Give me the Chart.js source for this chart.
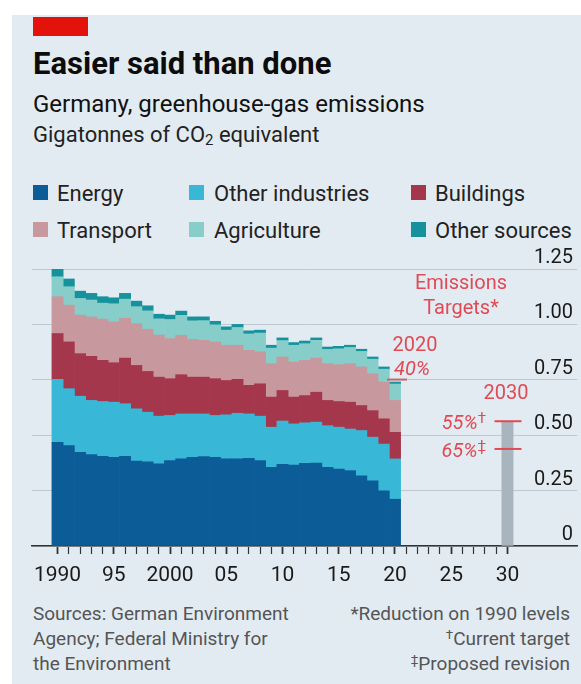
<!DOCTYPE html>
<html>
<head>
<meta charset="utf-8">
<script src="https://cdn.jsdelivr.net/npm/chart.js@4.4.1/dist/chart.umd.min.js"></script>
<style>
  body { margin: 0; background: #fff; font-family: Roboto, "Open Sans", sans-serif; }
  #panel { position: absolute; left: 12px; top: 15px; width: 569px; height: 669px; background: #e2ebf2; }
  .abs { position: absolute; white-space: nowrap; line-height: 1; }
  #redbar { position: absolute; left: 33px; top: 17px; width: 55px; height: 19px; background: #e3120b; }
  #title { left: 33px; top: 48px; font-size: 31px; font-weight: 700; color: #0c0c0c; }
  #subtitle { left: 33px; top: 92px; font-size: 24px; color: #111; }
  #units { left: 33px; top: 124px; font-size: 22px; color: #222; }
  #units sub { font-size: 0.68em; vertical-align: -0.2em; line-height: 0; }
  .sw { position: absolute; width: 15px; height: 15px; }
  .lg { font-size: 22px; color: #222; }
  .foot { position: absolute; top: 601px; font-size: 19px; line-height: 25px; color: #555; white-space: nowrap; }
  .foot sup { font-size: 0.7em; vertical-align: 0.45em; line-height: 0; }
  #chart { position: absolute; left: 12px; top: 245px; }
</style>
</head>
<body>
<div id="panel"></div>
<div id="redbar"></div>
<div class="abs" id="title">Easier said than done</div>
<div class="abs" id="subtitle">Germany, greenhouse-gas emissions</div>
<div class="abs" id="units">Gigatonnes of CO<sub>2</sub> equivalent</div>
<div id="legend"></div>
<canvas id="chart" width="569" height="350"></canvas>
<div class="foot" style="left:33px;">Sources: German Environment<br>Agency; Federal Ministry for<br>the Environment</div>
<div class="foot" style="right:11px; text-align:right;">*Reduction on 1990 levels<br><sup>†</sup>Current target<br><sup>‡</sup>Proposed revision</div>

<script>
// Germany, greenhouse-gas emissions by sector, Gt CO2e
const years = [1990, 1991, 1992, 1993, 1994, 1995, 1996, 1997, 1998, 1999,
               2000, 2001, 2002, 2003, 2004, 2005, 2006, 2007, 2008, 2009,
               2010, 2011, 2012, 2013, 2014, 2015, 2016, 2017, 2018, 2019, 2020];
const energy = [0.468, 0.453, 0.423, 0.412, 0.405, 0.400, 0.405, 0.383, 0.380, 0.371,
                0.385, 0.393, 0.400, 0.403, 0.400, 0.393, 0.393, 0.396, 0.385, 0.355,
                0.368, 0.365, 0.373, 0.374, 0.355, 0.347, 0.340, 0.317, 0.294, 0.249, 0.211];
const otherIndustries = [0.284, 0.257, 0.253, 0.245, 0.247, 0.249, 0.237, 0.236, 0.224, 0.215,
                         0.204, 0.203, 0.196, 0.193, 0.189, 0.199, 0.206, 0.200, 0.201, 0.181,
                         0.196, 0.186, 0.183, 0.185, 0.188, 0.189, 0.188, 0.204, 0.197, 0.211, 0.182];
const buildings = [0.207, 0.211, 0.192, 0.199, 0.186, 0.178, 0.206, 0.196, 0.184, 0.176,
                   0.166, 0.177, 0.166, 0.166, 0.166, 0.155, 0.153, 0.129, 0.146, 0.136,
                   0.138, 0.121, 0.123, 0.135, 0.114, 0.116, 0.121, 0.113, 0.120, 0.114, 0.120];
const transport = [0.166, 0.166, 0.174, 0.178, 0.186, 0.185, 0.180, 0.189, 0.190, 0.190,
                   0.181, 0.178, 0.171, 0.166, 0.166, 0.159, 0.154, 0.158, 0.144, 0.151,
                   0.151, 0.158, 0.159, 0.154, 0.166, 0.166, 0.174, 0.174, 0.166, 0.166, 0.144];
const agriculture = [0.090, 0.083, 0.075, 0.076, 0.072, 0.081, 0.086, 0.076, 0.083, 0.073,
                     0.086, 0.090, 0.083, 0.089, 0.077, 0.068, 0.080, 0.074, 0.085, 0.070,
                     0.074, 0.076, 0.075, 0.080, 0.064, 0.072, 0.073, 0.070, 0.066, 0.058, 0.074];
const otherSources = [0.038, 0.035, 0.033, 0.030, 0.029, 0.027, 0.026, 0.025, 0.023, 0.021,
                      0.020, 0.019, 0.018, 0.017, 0.016, 0.015, 0.014, 0.014, 0.013, 0.013,
                      0.012, 0.012, 0.012, 0.011, 0.011, 0.011, 0.010, 0.010, 0.010, 0.010, 0.009];

const seriesNames = ['Energy', 'Other industries', 'Buildings', 'Transport', 'Agriculture', 'Other sources'];
const seriesValues = [energy, otherIndustries, buildings, transport, agriculture, otherSources];
const seriesColours = ['#0c5c98', '#38b7d6', '#a5374c', '#c8989f', '#87cecb', '#16929c'];

// targets (reduction on 1990 levels)
const targetYears = [2020, 2030, 2030];
const targetValues = [0.751, 0.563, 0.438];
const targetLabels = ['40%', '55%', '65%'];
const targetMarks = ['', '\u2020', '\u2021'];
const targetBarYear = [2030];
const targetBarValue = [0.563];

const tickYears = [1990, 1995, 2000, 2005, 2010, 2015, 2020, 2025, 2030];
const tickLabels = ['1990', '95', '2000', '05', '10', '15', '20', '25', '30'];
const yTicks = [0, 0.25, 0.5, 0.75, 1, 1.25];
const yTickLabels = ['0', '0.25', '0.50', '0.75', '1.00', '1.25'];

// legend (HTML)
const legendPos = [[33, 57, 185], [189, 214, 185], [411, 435, 185],
                   [33, 57, 221.5], [189, 214, 221.5], [411, 435, 221.5]];
const legend = document.getElementById('legend');
seriesNames.forEach((name, i) => {
  const [sx, tx, ty] = legendPos[i];
  const sw = document.createElement('div');
  sw.className = 'sw';
  sw.style.left = sx + 'px'; sw.style.top = ty + 'px';
  sw.style.background = seriesColours[i];
  legend.appendChild(sw);
  const t = document.createElement('div');
  t.className = 'abs lg';
  t.style.left = tx + 'px'; t.style.top = (ty - 2) + 'px';
  t.textContent = name;
  legend.appendChild(t);
});

const red = '#e04a55';

const targetNotes = {
  id: 'targetNotes',
  afterDatasetsDraw(chart) {
    const {ctx, scales: {x, y}} = chart;
    ctx.save();
    targetYears.forEach((yr, i) => {
      const px = x.getPixelForValue(yr);
      const py = y.getPixelForValue(targetValues[i]);
      ctx.strokeStyle = i === 0 ? '#c7646c' : red;
      ctx.lineWidth = 2;
      ctx.beginPath();
      ctx.moveTo(px - (i === 0 ? 8 : 13), py);
      ctx.lineTo(px + (i === 0 ? 12 : 14), py);
      ctx.stroke();
    });

    ctx.fillStyle = red;
    ctx.textBaseline = 'middle';
    ctx.textAlign = 'center';
    ctx.font = '20px Roboto';
    const x30 = x.getPixelForValue(2030);
    const top = y.getPixelForValue(1.25);
    ctx.fillText('Emissions', x30 - 46.5, top + 15);
    ctx.fillText('Targets*', x30 - 46.5, top + 40);

    // 2020
    const x20 = x.getPixelForValue(targetYears[0]);
    const y40 = y.getPixelForValue(targetValues[0]);
    ctx.fillText('2020', x20 + 20, y40 - 34);
    ctx.font = 'italic 20px Roboto';
    ctx.fillText(targetLabels[0], x20 + 17, y40 - 10);

    // 2030
    const y55 = y.getPixelForValue(targetValues[1]);
    ctx.font = '20px Roboto';
    ctx.fillText('2030', x30 - 1.5, y55 - 27);
    ctx.textAlign = 'right';
    [1, 2].forEach(i => {
      const py = y.getPixelForValue(targetValues[i]);
      const right = x30 - 21.5;
      ctx.font = '15px Roboto';
      const mw = ctx.measureText(targetMarks[i]).width;
      ctx.fillText(targetMarks[i], right, py - 2);
      ctx.font = 'italic 20px Roboto';
      ctx.fillText(targetLabels[i], right - mw, py + 3);
    });
    ctx.restore();
  }
};

const datasets = seriesNames.map((name, i) => ({
  label: name,
  data: years.map((yr, j) => ({x: yr, y: seriesValues[i][j]})),
  backgroundColor: seriesColours[i],
  borderWidth: 0,
  barPercentage: 1,
  categoryPercentage: 1
}));
datasets.push({
  label: '2030 target',
  data: targetBarYear.map((yr, j) => ({x: yr, y: targetBarValue[j]})),
  backgroundColor: '#a8b4be',
  borderWidth: 0,
  barPercentage: 1,
  categoryPercentage: 1
});

const allYears = [];
for (let yr = 1990; yr <= 2030; yr++) allYears.push(yr);

new Chart(document.getElementById('chart'), {
  type: 'bar',
  data: { datasets: datasets },
  options: {
    responsive: false,
    animation: false,
    devicePixelRatio: 1,
    layout: { padding: { left: 20, right: 4, top: 24, bottom: 0 } },
    plugins: { legend: { display: false }, tooltip: { enabled: false } },
    scales: {
      x: {
        type: 'linear',
        min: 1987.73,
        max: 2036.18,
        offset: false,
        stacked: true,
        grid: {
          display: true, drawOnChartArea: false, drawTicks: true, offset: false,
          tickLength: 8, tickColor: '#333',
          tickWidth: (c) => (c.tick && tickYears.includes(c.tick.value)) ? 1.8 : 1.2
        },
        border: { display: true, color: '#333', width: 1.5 },
        afterBuildTicks: (s) => { s.ticks = allYears.map(v => ({value: v})); },
        afterFit: (s) => { s.height = 49; },
        ticks: {
          autoSkip: false, maxRotation: 0, padding: 9, color: '#1a1a1a',
          font: { size: 21, family: 'Roboto' },
          callback: (v) => { const i = tickYears.indexOf(v); return i >= 0 ? tickLabels[i] : ''; }
        }
      },
      y: {
        type: 'linear',
        position: 'right',
        min: 0,
        max: 1.25,
        stacked: true,
        grid: { color: '#bfc8d0', lineWidth: 1, drawTicks: false },
        border: { display: false },
        afterBuildTicks: (s) => { s.ticks = yTicks.map(v => ({value: v})); },
        afterFit: (s) => { s.width = 0; },
        ticks: {
          mirror: true, padding: -4, labelOffset: -11, color: '#1a1a1a',
          font: { size: 20, family: 'Roboto' },
          callback: (v) => yTickLabels[yTicks.indexOf(v)]
        }
      }
    }
  },
  plugins: [targetNotes]
});
</script>
</body>
</html>
